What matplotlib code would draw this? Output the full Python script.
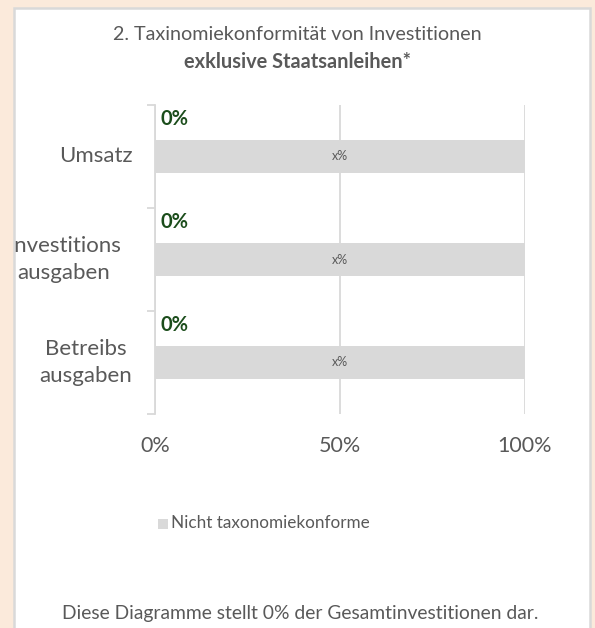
import matplotlib
matplotlib.use("Agg")
import matplotlib.pyplot as plt
from matplotlib.patches import Rectangle
from matplotlib.transforms import Bbox, TransformedBbox, IdentityTransform

plt.rcParams['font.family'] = ['Lato', 'DejaVu Sans']

categories = ["Umsatz", "Investitions\nausgaben", "Betreibs\nausgaben"]
conform = [0, 0, 0]            # taxonomy-conform share (%)
non_conform = [100, 100, 100]  # non-conform share (%)
conform_labels = ["0%", "0%", "0%"]
bar_labels = ["x%", "x%", "x%"]
x_ticks = [0, 50, 100]
x_ticklabels = ["0%", "50%", "100%"]
title1 = "2. Taxinomiekonformität von Investitionen"
title2 = "exklusive Staatsanleihen*"
legend_label = "Nicht taxonomiekonforme"
footer = "Diese Diagramme stellt 0% der Gesamtinvestitionen dar."

W, H = 595, 628
fig = plt.figure(figsize=(W / 100, H / 100), dpi=100)
fig.patch.set_facecolor("#FBEADB")

def fx(px):
    return px / W

def fy(py):
    return 1 - py / H

# white panel
fig.patches.append(Rectangle((fx(14), fy(640)), fx(590) - fx(14), fy(8) - fy(640),
                             transform=fig.transFigure, facecolor="white",
                             edgecolor="#D9D9D9", linewidth=1.8, zorder=-10))

grey = "#595959"
bar_grey = "#D9D9D9"
green = "#1B4D1B"

ax = fig.add_axes([fx(155), fy(414), fx(525) - fx(155), fy(105) - fy(414)])
ax.set_facecolor("none")
ax.set_zorder(2)
n = len(categories)
ypos = [n - 0.5 - i for i in range(n)]
ax.barh(ypos, non_conform, left=conform, height=0.33, color=bar_grey, zorder=2)
ax.set_xlim(0, 100)
ax.set_ylim(0, n)
for y, lab in zip(ypos, bar_labels):
    ax.text(50, y, lab, ha="center", va="center", fontsize=9, color=grey, zorder=3)
for y, c, lab in zip(ypos, conform, conform_labels):
    ax.text(c + 1.6, y + 0.36, lab, ha="left", va="center", fontsize=14.5,
            fontweight="bold", color=green, zorder=3)

ax.set_xticks(x_ticks)
ax.set_xticklabels(x_ticklabels)
ax.tick_params(axis="x", length=0, pad=16, labelsize=15.5, labelcolor=grey)
ax.set_yticks(range(n + 1))
ax.set_yticklabels([])
ax.tick_params(axis="y", length=6, width=1.3, color=bar_grey, direction="out")
ax.grid(axis="x", color=bar_grey, linewidth=1.3, zorder=1)
for s in ["top", "right", "bottom"]:
    ax.spines[s].set_visible(False)
ax.spines["left"].set_color(bar_grey)
ax.spines["left"].set_linewidth(1.3)
ax.spines["left"].set_zorder(4)

# category labels (right-aligned blocks, centered lines)
clip = TransformedBbox(Bbox([[15, 0], [590, H]]), IdentityTransform())
label_x = [96, 64, 86]
for y, lab, lx in zip(ypos, categories, label_x):
    yy = ax.transData.transform((0, y))[1]
    t = fig.text(fx(lx), yy / H, lab, ha="center", va="center", fontsize=16,
                 color=grey, linespacing=1.38, multialignment="center")
    t.set_clip_box(clip)
    t.set_clip_on(True)

fig.text(fx(297), fy(35), title1, ha="center", va="center", fontsize=14.2, color=grey)
fig.text(fx(297), fy(62), title2, ha="center", va="center", fontsize=14.4,
         fontweight="bold", color=grey)

# legend
fig.patches.append(Rectangle((fx(158), fy(528.5)), fx(10), 10 / H, transform=fig.transFigure,
                             facecolor=bar_grey, edgecolor="none"))
fig.text(fx(171), fy(523), legend_label, ha="left", va="center", fontsize=12.3, color=grey)

fig.text(fx(300), fy(613), footer, ha="center", va="center", fontsize=13.9, color=grey)

fig.savefig("out.png", dpi=100, facecolor=fig.get_facecolor())
